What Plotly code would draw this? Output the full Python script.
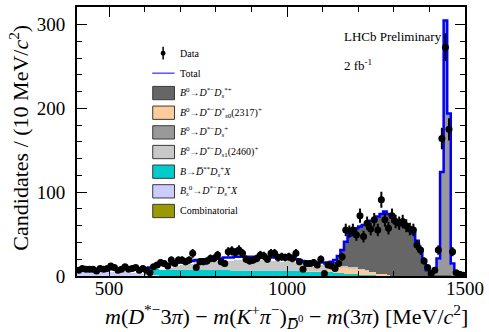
import numpy as np
import plotly.graph_objects as go

# ---------------- data (10 MeV bins, centres 415 ... 1495) ----------------
bin_centers = list(range(415, 1500, 10))

data_counts = (
    [7, 9, 8, 8, 8, 6, 9, 8, 9, 12, 10, 7, 8, 11, 8, 9, 10, 7, 9] +
    [7, 4, 11, 13, 16, 15, 12, 19, 15, 19] +
    [19, 17, 19, 27, 10, 17, 17, 18, 21, 21] +
    [25, 17, 15, 29, 30, 28, 31, 27, 20, 18] +
    [19, 21, 25, 24, 20, 27, 27, 22, 23, 22] +
    [23, 21, 27, 17, 8, 15, 15, 16, 13, 20] +
    [3, 13, 12, 9, 15, 23, 55, 53, 55, 49] +
    [72, 47, 63, 56, 67, 55, 91, 67, 57, 72] +
    [65, 63, 65, 60, 56, 55, 37, 31, 18, 10] +
    [3, 7, 31, 164, 273, 175, 29, 4, 2, 1]
)

total_fit = (
    [7, 7, 7, 7, 7, 7, 8, 8, 8, 8, 8, 8, 8, 8, 8, 8, 8, 8, 8] +
    [9, 10, 11, 12, 13, 13, 14, 14, 15, 16] +
    [17, 17, 18, 18, 19, 19, 20, 20, 20, 21] +
    [21, 21, 22, 22, 22, 23, 23, 23, 23, 23] +
    [23, 23, 23, 23, 23, 22, 22, 22, 21, 21] +
    [21, 20, 20, 19, 18, 17, 17, 16, 16, 16] +
    [16, 16, 17, 19, 24, 31, 41, 48, 54, 57] +
    [59, 61, 63, 66, 68, 71, 74, 77, 74, 70] +
    [66, 64, 61, 59, 56, 51, 42, 31, 18, 7] +
    [3, 6, 21, 124, 305, 194, 15, 4, 3, 2]
)

comb_bkg = [0.3] * 109

bs_dstar_ds_x = (
    [4, 4, 4, 4, 4, 4, 4, 4, 4, 4, 4, 4, 4, 4, 3, 3, 3, 3, 2] +
    [2, 1, 1, 0.5, 0, 0, 0, 0, 0, 0] + [0] * 80
)

b_dbar_ss_ds_x = (
    [0] * 19 +
    [2, 4, 6, 7, 7, 7, 7, 7, 7, 7] +
    [7, 7, 7, 7, 7, 7, 7, 7, 7, 7] +
    [7, 7, 7, 7, 6, 6, 6, 6, 6, 6] +
    [6, 6, 6, 6, 6, 6, 6, 6, 6, 6] +
    [6, 6, 6, 6, 5, 5, 5, 5, 5, 5] +
    [4, 4, 4, 3, 3, 3, 2, 2, 2, 2] +
    [1, 1, 1, 1, 1, 0.5, 0.5, 0.5, 0, 0] +
    [0] * 20
)

b_dstar_ds0_2317 = (
    [0] * 19 + [0] * 40 +
    [0, 0, 0, 0, 0.5, 0.5, 1, 1, 1, 1] +
    [2, 3, 4, 5, 6, 6, 7, 7, 7, 7] +
    [6, 6, 5, 4, 3, 2, 1, 1, 0.5, 0] +
    [0] * 20
)

b_dstar_ds1_2460 = (
    [0] * 19 +
    [0, 0, 0, 0, 0, 0, 1, 2, 3, 5] +
    [6, 6, 7, 7, 8, 8, 9, 9, 9, 10] +
    [10, 10, 11, 11, 12, 13, 13, 13, 13, 13] +
    [13, 13, 13, 13, 13, 12, 12, 12, 11, 11] +
    [12, 11, 11, 10, 9.5, 8.5, 8, 7, 7, 7] +
    [8, 7, 6, 5, 4, 3, 3, 2, 2, 1] +
    [1, 1, 0.5, 0, 0, 0, 0, 0, 0, 0] +
    [0] * 20
)

b_dstar_dsstar = (
    [0] * 19 + [0] * 50 +
    [0.5, 1, 2, 4, 9, 18, 28, 36, 42, 46] +
    [50, 52, 56, 60, 63, 68, 72, 75, 73, 69] +
    [65, 63, 60, 58, 55, 50, 41, 30, 17, 6] +
    [2, 1, 1, 1, 0.5, 0.5, 0, 0, 0, 0]
)

b_dstar_ds = (
    [0] * 99 +
    [0, 2, 18, 122, 303, 192, 13, 3, 2, 1]
)

components = [
    ("Combinatorial", comb_bkg, "#999900"),
    ("B_s->D*Ds X", bs_dstar_ds_x, "#ccccff"),
    ("B->D** Ds X", b_dbar_ss_ds_x, "#00cccc"),
    ("Ds0(2317)", b_dstar_ds0_2317, "#ffcc99"),
    ("Ds1(2460)", b_dstar_ds1_2460, "#c8c8c8"),
    ("D*Ds*", b_dstar_dsstar, "#666666"),
    ("D*Ds", b_dstar_ds, "#999999"),
]

legend_entries = [
    ("<i>B</i><sup>0</sup>→<i>D</i><sup>*−</sup><i>D</i><sub><i>s</i></sub><sup>*+</sup>", "#666666"),
    ("<i>B</i><sup>0</sup>→<i>D</i><sup>*−</sup><i>D</i><sup>*</sup><sub><i>s</i>0</sub>(2317)<sup>+</sup>", "#ffcc99"),
    ("<i>B</i><sup>0</sup>→<i>D</i><sup>*−</sup><i>D</i><sub><i>s</i></sub><sup>+</sup>", "#999999"),
    ("<i>B</i><sup>0</sup>→<i>D</i><sup>*−</sup><i>D</i><sub><i>s</i>1</sub>(2460)<sup>+</sup>", "#c8c8c8"),
    ("<i>B</i>→<i>D̅</i><sup>**</sup><i>D</i><sub><i>s</i></sub><sup>+</sup><i>X</i>", "#00cccc"),
    ("<i>B</i><sub><i>s</i></sub><sup>0</sup>→<i>D</i><sup>*−</sup><i>D</i><sub><i>s</i></sub><sup>+</sup><i>X</i>", "#ccccff"),
    ("Combinatorial", "#999900"),
]

# ---------------- figure ----------------
FONT = "Liberation Serif, Times New Roman, serif"
W, H = 489, 332
L, R, T, B = 77, 469, 5, 276


def px(x):
    return (x - L) / (R - L)


def py(y):
    return (B - y) / (B - T)


fig = go.Figure()

for name, vals, col in components:
    fig.add_trace(go.Bar(
        x=bin_centers, y=vals, width=10, name=name,
        marker=dict(color=col, line=dict(width=0)),
        showlegend=False, hoverinfo="skip",
    ))

edges = np.array(bin_centers) - 5
step_x = list(edges) + [edges[-1] + 10]
step_y = list(total_fit) + [total_fit[-1]]
fig.add_trace(go.Scatter(
    x=step_x, y=step_y, mode="lines", line=dict(color="#0000ff", width=2.5, shape="hv"),
    showlegend=False, hoverinfo="skip",
))

fig.add_trace(go.Scatter(
    x=bin_centers, y=data_counts, mode="markers",
    marker=dict(color="black", size=7),
    error_y=dict(type="data", array=list(np.sqrt(data_counts)), color="black", thickness=2, width=0),
    showlegend=False, hoverinfo="skip",
))

shapes = []
annotations = []

# legend: Data
shapes.append(dict(type="line", xref="paper", yref="paper",
                   x0=px(164), x1=px(164), y0=py(45), y1=py(58),
                   line=dict(color="black", width=1.5)))
shapes.append(dict(type="circle", xref="paper", yref="paper",
                   x0=px(161.5), x1=px(166.5), y0=py(49.2), y1=py(54.2),
                   fillcolor="black", line=dict(color="black", width=0)))
annotations.append(dict(text="Data", xref="paper", yref="paper", x=px(179.5), y=py(51.7),
                        xanchor="left", yanchor="middle", showarrow=False,
                        font=dict(family=FONT, size=10, color="black")))
# legend: Total
shapes.append(dict(type="line", xref="paper", yref="paper",
                   x0=px(153), x1=px(175.5), y0=py(71.7), y1=py(71.7),
                   line=dict(color="#5555ff", width=1.5)))
annotations.append(dict(text="Total", xref="paper", yref="paper", x=px(179.5), y=py(71.7),
                        xanchor="left", yanchor="middle", showarrow=False,
                        font=dict(family=FONT, size=10, color="black")))

row_y = 91.7
for label, col in legend_entries:
    shapes.append(dict(type="rect", xref="paper", yref="paper",
                       x0=px(153.5), x1=px(175.5), y0=py(row_y + 6.7), y1=py(row_y - 6.7),
                       fillcolor=col, line=dict(color="#3a3a3a", width=1)))
    annotations.append(dict(text=label, xref="paper", yref="paper", x=px(179.5), y=py(row_y),
                            xanchor="left", yanchor="middle", showarrow=False,
                            font=dict(family=FONT, size=10, color="black")))
    row_y += 19.8

annotations.append(dict(text="LHCb Preliminary", xref="paper", yref="paper", x=px(345), y=py(35),
                        xanchor="left", yanchor="middle", showarrow=False,
                        font=dict(family=FONT, size=13, color="black")))
annotations.append(dict(text="2 fb<sup>-1</sup>", xref="paper", yref="paper", x=px(345), y=py(63),
                        xanchor="left", yanchor="middle", showarrow=False,
                        font=dict(family=FONT, size=13, color="black")))

# axis titles
annotations.append(dict(
    text="<i>m</i>(<i>D</i><sup>*−</sup>3<i>π</i>) − <i>m</i>(<i>K</i><sup>+</sup><i>π</i><sup>−</sup>)"
         "<sub><i>D̅</i><sup>0</sup></sub> − <i>m</i>(3<i>π</i>) [MeV/<i>c</i><sup>2</sup>]",
    xref="paper", yref="paper", x=px(289), y=py(317), xanchor="center", yanchor="middle",
    showarrow=False, font=dict(family=FONT, size=22, color="black")))
annotations.append(dict(
    text="Candidates / (10 MeV/<i>c</i><sup>2</sup>)",
    xref="paper", yref="paper", x=px(18), y=py(137), xanchor="center", yanchor="middle",
    textangle=-90, showarrow=False, font=dict(family=FONT, size=22, color="black")))

fig.update_layout(
    width=W, height=H,
    margin=dict(l=L, r=W - R, t=T, b=H - B),
    paper_bgcolor="white", plot_bgcolor="white",
    barmode="stack", bargap=0,
    shapes=shapes, annotations=annotations,
    font=dict(family=FONT, size=19, color="black"),
    showlegend=False,
)

fig.update_xaxes(
    range=[410, 1500], showgrid=False, zeroline=False,
    showline=True, linecolor="black", linewidth=2, mirror="ticks",
    ticks="inside", ticklen=10, tickwidth=1.2, tickcolor="black",
    tick0=0, dtick=500, ticklabelstandoff=-6,
    tickfont=dict(family=FONT, size=19, color="black"),
    minor=dict(ticks="inside", ticklen=5, dtick=100, tick0=0, tickcolor="black", tickwidth=1.2, showgrid=False),
)
fig.update_yaxes(
    range=[0, 321], showgrid=False, zeroline=False,
    showline=True, linecolor="black", linewidth=2, mirror="ticks",
    ticks="inside", ticklen=10, tickwidth=1.2, tickcolor="black",
    tick0=0, dtick=100, ticklabelstandoff=6,
    tickfont=dict(family=FONT, size=19, color="black"),
    minor=dict(ticks="inside", ticklen=5, dtick=20, tick0=0, tickcolor="black", tickwidth=1.2, showgrid=False),
)

fig.write_html("out.html", config={"displayModeBar": False})
